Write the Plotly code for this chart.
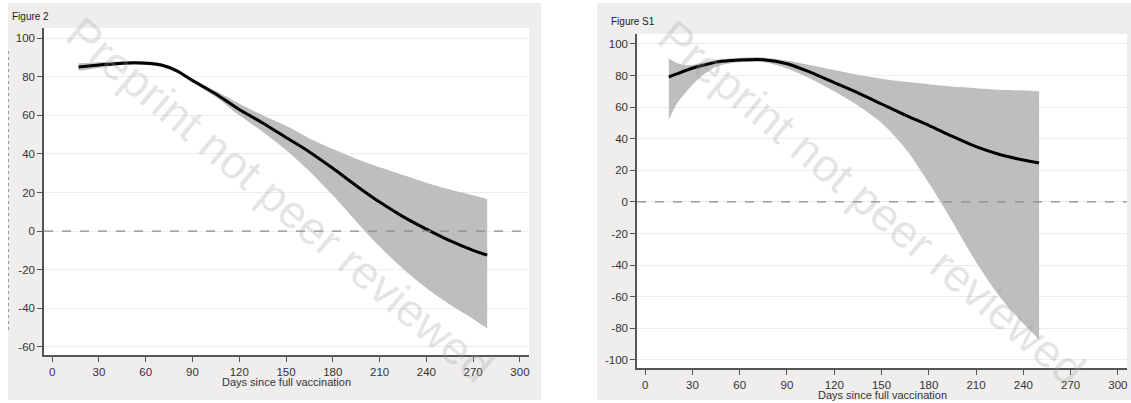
import plotly.graph_objects as go

# ---------------- data ----------------
days_fig2 = [17, 30, 45, 60, 70, 80, 90, 105, 120, 135, 150, 165, 180, 195, 210, 225, 240, 255, 270, 279]
mean_fig2 = [85, 86, 87, 87, 86, 83, 78, 71, 63, 56, 48.5, 41, 32.5, 23.5, 15, 7.5, 1, -5, -10, -12.5]
upper_fig2 = [87, 87.5, 88, 88, 87, 84, 79, 72.5, 66, 60, 54.5, 48, 42.5, 37.5, 33, 29, 25, 21.5, 18.5, 16.5]
lower_fig2 = [83, 84.5, 86, 86, 85, 82, 77, 69.5, 60, 51.5, 42, 31, 18.5, 5, -8, -19.5, -29.5, -38, -45.5, -50.5]

days_figS1 = [15, 20, 28, 35, 45, 55, 65, 75, 90, 105, 120, 135, 150, 165, 180, 195, 210, 225, 240, 250]
mean_figS1 = [79, 81, 84, 86, 88.5, 89.5, 90, 90, 87.5, 82, 75.5, 69, 62, 55, 48.5, 41.5, 35, 30, 26.5, 24.7]
upper_figS1 = [91, 88, 86.5, 88, 90, 91, 91.5, 91.5, 89.5, 86.5, 83.5, 80.5, 78, 76, 74.5, 73, 72, 71, 70.5, 70]
lower_figS1 = [52, 62, 72, 79, 85.5, 88, 88.5, 88.5, 84.5, 78, 70, 61, 50, 34, 12, -12.5, -38, -60, -77, -87]

x_ticks = [0, 30, 60, 90, 120, 150, 180, 210, 240, 270, 300]
y_ticks_fig2 = [100, 80, 60, 40, 20, 0, -20, -40, -60]
y_ticks_figS1 = [100, 80, 60, 40, 20, 0, -20, -40, -60, -80, -100]

titles = ["Figure 2", "Figure S1"]
x_title = "Days since full vaccination"
watermark = "Preprint not peer reviewed"

# ---------------- styling ----------------
W, H = 1131, 403
FONT = "Liberation Sans, Arial, sans-serif"
BAND = "#bebebe"
PANEL = "#efeeec"
AXIS = "#555555"
GRID = "#ececea"

def px_x(p):
    return p / W

def px_y(p):
    return 1 - p / H

fig = go.Figure()

panels = [
    dict(days=days_fig2, mean=mean_fig2, up=upper_fig2, lo=lower_fig2, xa="x", ya="y"),
    dict(days=days_figS1, mean=mean_figS1, up=upper_figS1, lo=lower_figS1, xa="x2", ya="y2"),
]

for p in panels:
    fig.add_trace(go.Scatter(x=p["days"], y=p["up"], mode="lines", line=dict(width=0, shape="spline", smoothing=0.8),
                             xaxis=p["xa"], yaxis=p["ya"], showlegend=False, hoverinfo="skip"))
    fig.add_trace(go.Scatter(x=p["days"], y=p["lo"], mode="lines", line=dict(width=0, shape="spline", smoothing=0.8),
                             fill="tonexty", fillcolor=BAND,
                             xaxis=p["xa"], yaxis=p["ya"], showlegend=False, hoverinfo="skip"))
    fig.add_trace(go.Scatter(x=p["days"], y=p["mean"], mode="lines",
                             line=dict(color="black", width=3, shape="spline", smoothing=0.8),
                             xaxis=p["xa"], yaxis=p["ya"], showlegend=False))

def xaxis_cfg(domain):
    return dict(domain=domain, range=[-5.2, 305.8], tickvals=x_ticks, ticktext=[str(v) for v in x_ticks],
                showgrid=False, zeroline=False, showline=True, linecolor=AXIS, linewidth=1.5,
                ticks="outside", ticklen=5, tickwidth=1, tickcolor=AXIS,
                tickfont=dict(family=FONT, size=11.5, color="#333333"),
                fixedrange=True)

def yaxis_cfg(domain, rng, ticks, anchor):
    return dict(domain=domain, range=rng, tickvals=ticks, ticktext=[str(v) for v in ticks],
                showgrid=True, gridcolor=GRID, gridwidth=1, zeroline=False,
                showline=True, linecolor=AXIS, linewidth=1.5,
                ticks="outside", ticklen=5, tickwidth=1, tickcolor=AXIS,
                tickfont=dict(family=FONT, size=11.5, color="#333333"), anchor=anchor,
                fixedrange=True)

layout = dict(
    width=W, height=H, margin=dict(l=0, r=0, t=0, b=0),
    paper_bgcolor="white", plot_bgcolor="white",
    xaxis=dict(xaxis_cfg([px_x(44), px_x(529)]), anchor="y"),
    yaxis=yaxis_cfg([px_y(355), px_y(28)], [-64.2, 105.2], y_ticks_fig2, "x"),
    xaxis2=dict(xaxis_cfg([px_x(637), px_x(1127)]), anchor="y2"),
    yaxis2=yaxis_cfg([px_y(368), px_y(34)], [-105.1, 106.3], y_ticks_figS1, "x2"),
)
fig.update_layout(**layout)

shapes = [
    # grey panel backgrounds
    dict(type="rect", xref="paper", yref="paper", x0=px_x(8), x1=px_x(541), y0=px_y(400), y1=px_y(3),
         fillcolor=PANEL, line=dict(width=0), layer="below"),
    dict(type="rect", xref="paper", yref="paper", x0=px_x(597), x1=px_x(1131), y0=px_y(400), y1=px_y(3),
         fillcolor=PANEL, line=dict(width=0), layer="below"),
    # white plot regions (drawn below traces)
    dict(type="rect", xref="paper", yref="paper", x0=px_x(44), x1=px_x(529), y0=px_y(355), y1=px_y(28),
         fillcolor="white", line=dict(width=0), layer="below"),
    dict(type="rect", xref="paper", yref="paper", x0=px_x(637), x1=px_x(1127), y0=px_y(368), y1=px_y(34),
         fillcolor="white", line=dict(width=0), layer="below"),
    # dashed reference lines at 0
    dict(type="line", xref="x domain", yref="y", x0=0, x1=1, y0=0, y1=0,
         line=dict(color="#8a8a8a", width=1.2, dash="dash")),
    dict(type="line", xref="x2 domain", yref="y2", x0=0, x1=1, y0=0, y1=0,
         line=dict(color="#8a8a8a", width=1.2, dash="dash")),
    # faint dotted crop artefact on the left
    dict(type="line", xref="paper", yref="paper", x0=px_x(8.5), x1=px_x(8.5), y0=px_y(330), y1=px_y(48),
         line=dict(color="#9a9a9a", width=1, dash="dot")),
]
fig.update_layout(shapes=shapes)

annotations = [
    dict(text=titles[0], xref="paper", yref="paper", x=px_x(10), y=px_y(17), xanchor="left", yanchor="middle",
         showarrow=False, font=dict(family=FONT, size=10, color="#222222")),
    dict(text=titles[1], xref="paper", yref="paper", x=px_x(609), y=px_y(22), xanchor="left", yanchor="middle",
         showarrow=False, font=dict(family=FONT, size=10, color="#222222")),
    dict(text=x_title, xref="paper", yref="paper", x=px_x(286), y=px_y(382), xanchor="center", yanchor="middle",
         showarrow=False, font=dict(family=FONT, size=11, color="#333333")),
    dict(text=x_title, xref="paper", yref="paper", x=px_x(882), y=px_y(395), xanchor="center", yanchor="middle",
         showarrow=False, font=dict(family=FONT, size=11, color="#333333")),
    dict(text=watermark, xref="paper", yref="paper", x=px_x(280), y=px_y(200), xanchor="center", yanchor="middle",
         textangle=40, showarrow=False, font=dict(family=FONT, size=46, color="rgba(160,160,160,0.28)")),
    dict(text=watermark, xref="paper", yref="paper", x=px_x(872), y=px_y(203), xanchor="center", yanchor="middle",
         textangle=40, showarrow=False, font=dict(family=FONT, size=46, color="rgba(160,160,160,0.28)")),
]
fig.update_layout(annotations=annotations)

fig.write_html("out.html", config={"displayModeBar": False},
               post_script="document.body.style.margin='0';document.body.style.padding='0';document.body.style.overflow='hidden';")
